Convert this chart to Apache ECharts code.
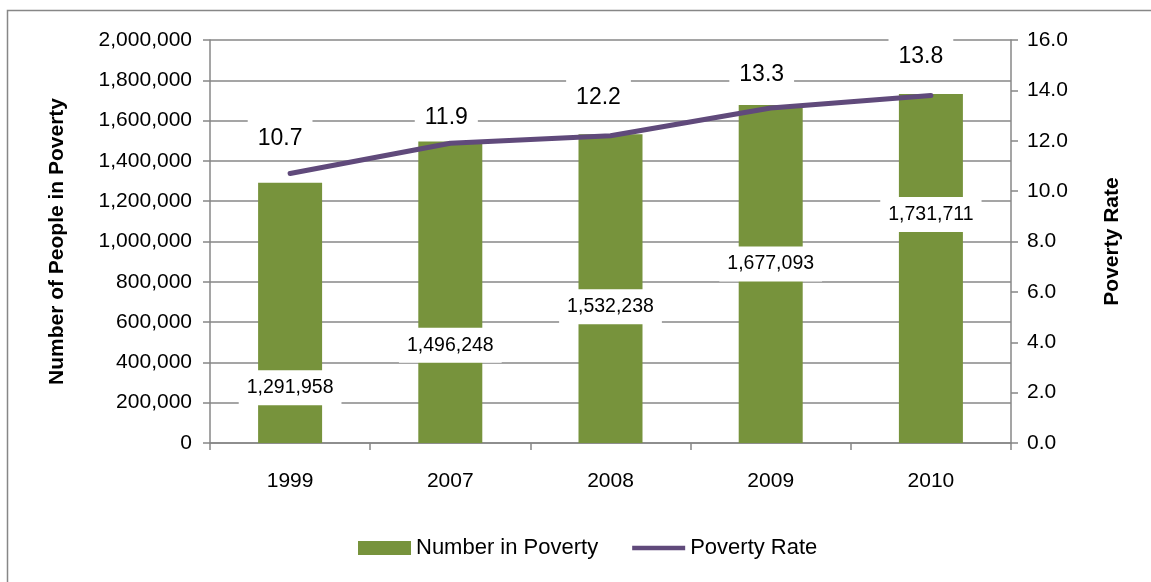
<!DOCTYPE html>
<html>
<head>
<meta charset="utf-8">
<script src="https://cdn.jsdelivr.net/npm/echarts@6/dist/echarts.min.js"></script>
<style>
html,body{margin:0;padding:0;background:#fff;}
#chart{width:1151px;height:582px;}
</style>
</head>
<body>
<div id="chart"></div>
<script>
// ---- data ----
var categories = ['1999', '2007', '2008', '2009', '2010'];
var numberInPoverty = [1291958, 1496248, 1532238, 1677093, 1731711];
var povertyRate = [10.7, 11.9, 12.2, 13.3, 13.8];

// ---- styling (label placement, not data) ----
var barLabelShift = [75, 53, 18, -10, -54];
var rateLabelShift = [[-10, -35], [-4, -26], [-12, -38], [-9, -33], [-10, -39]];

var FONT = 'Liberation Sans';
var GRID = '#878787';

var chart = echarts.init(document.getElementById('chart'));

function fmtInt(v) { return Number(v).toLocaleString('en-US'); }

var barData = numberInPoverty.map(function (v, i) {
  return { value: v, label: { offset: [0, barLabelShift[i]] } };
});
var lineData = povertyRate.map(function (v, i) {
  return { value: v, label: { offset: rateLabelShift[i] } };
});

chart.setOption({
  animation: false,
  backgroundColor: '#fff',
  textStyle: { fontFamily: FONT },
  graphic: [{
    type: 'rect',
    shape: { x: 7.5, y: 10.5, width: 1300, height: 800 },
    style: { fill: 'none', stroke: GRID, lineWidth: 1.5 },
    silent: true,
    z: -10
  }],
  grid: { left: 210, right: 140, top: 40, bottom: 139 },
  legend: {
    left: 358,
    top: 537,
    padding: 0,
    itemWidth: 53,
    itemHeight: 14,
    itemGap: 34,
    textStyle: { fontFamily: FONT, fontSize: 22, color: '#000' },
    data: [
      { name: 'Number in Poverty', icon: 'rect' },
      { name: 'Poverty Rate', icon: 'path://M0,0 L56,0 L56,5 L0,5 Z' }
    ]
  },
  xAxis: {
    type: 'category',
    data: categories,
    boundaryGap: true,
    axisLine: { lineStyle: { color: GRID, width: 1.5 } },
    axisTick: { show: true, interval: 0, length: 7, lineStyle: { color: GRID, width: 1.5 } },
    axisLabel: { color: '#000', fontSize: 21, fontFamily: FONT, margin: 28 }
  },
  yAxis: [{
    type: 'value',
    min: 0, max: 2000000, interval: 200000,
    name: 'Number of People in Poverty',
    nameLocation: 'middle',
    nameRotate: 90,
    nameGap: 142,
    nameTextStyle: { color: '#000', fontSize: 21, fontWeight: 'bold', fontFamily: FONT },
    axisLine: { show: true, lineStyle: { color: GRID, width: 1.5 } },
    axisTick: { show: true, length: 7, lineStyle: { color: GRID, width: 1.5 } },
    axisLabel: { color: '#000', fontSize: 21, fontFamily: FONT, margin: 18, formatter: fmtInt },
    splitLine: { show: true, lineStyle: { color: GRID, width: 1.5 } }
  }, {
    type: 'value',
    min: 0, max: 16, interval: 2,
    position: 'right',
    name: 'Poverty Rate',
    nameLocation: 'middle',
    nameRotate: 90,
    nameGap: 91,
    nameTextStyle: { color: '#000', fontSize: 21, fontWeight: 'bold', fontFamily: FONT },
    axisLine: { show: true, lineStyle: { color: GRID, width: 1.5 } },
    axisTick: { show: true, length: 7, lineStyle: { color: GRID, width: 1.5 } },
    axisLabel: { color: '#000', fontSize: 21, fontFamily: FONT, margin: 16,
      formatter: function (v) { return v.toFixed(1); } },
    splitLine: { show: false }
  }],
  series: [{
    name: 'Number in Poverty',
    type: 'bar',
    yAxisIndex: 0,
    barWidth: 64,
    data: barData,
    itemStyle: { color: '#77933C' },
    label: {
      show: true,
      position: 'inside',
      color: '#000',
      fontSize: 19.5,
      fontFamily: FONT,
      lineHeight: 19,
      backgroundColor: '#fff',
      padding: [8, 8],
      formatter: function (p) { return fmtInt(p.value); }
    },
    z: 2
  }, {
    name: 'Poverty Rate',
    type: 'line',
    yAxisIndex: 1,
    data: lineData,
    symbol: 'circle',
    symbolSize: 1,
    showSymbol: true,
    itemStyle: { color: '#604A7B' },
    lineStyle: { color: '#604A7B', width: 5, cap: 'round', join: 'round' },
    label: {
      show: true,
      position: 'inside',
      color: '#000',
      fontSize: 23,
      fontFamily: FONT,
      lineHeight: 23,
      backgroundColor: '#fff',
      padding: [8, 10],
      formatter: function (p) { return p.value.toFixed(1); }
    },
    z: 3
  }]
});
</script>
</body>
</html>
